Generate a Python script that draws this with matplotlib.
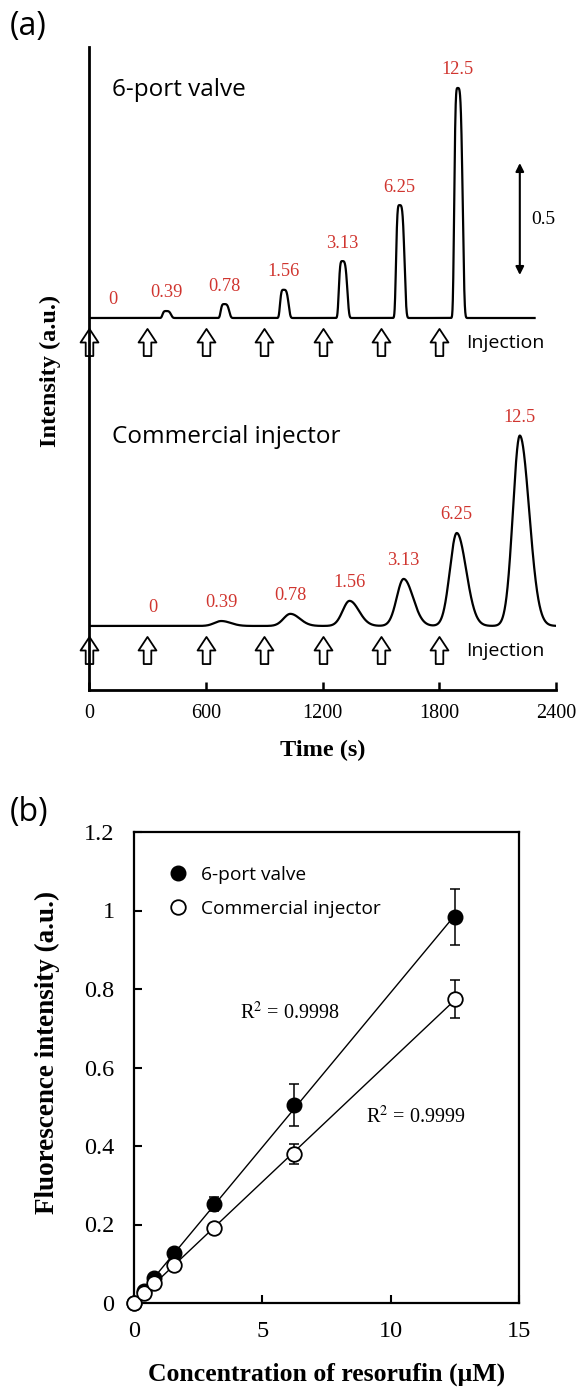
import matplotlib
matplotlib.use("Agg")
import matplotlib.pyplot as plt
import numpy as np
from matplotlib.path import Path
from matplotlib.ticker import FuncFormatter

SERIF = "Liberation Serif"
SANS = "Open Sans"
RED = "#d0352f"
plt.rcParams["mathtext.fontset"] = "stix"

# ---- panel (a): injection trains ----
inj_times = [0, 300, 600, 900, 1200, 1500, 1800]          # s
conc_labels = ["0", "0.39", "0.78", "1.56", "3.13", "6.25", "12.5"]
# apex time (s) and height (a.u.) of each peak; first entry = blank (label only)
valve_t = [124, 396, 695, 1000, 1302, 1596, 1895]
valve_h = [0.0, 0.031, 0.062, 0.126, 0.254, 0.504, 1.027]
comm_t = [330, 680, 1035, 1339, 1617, 1890, 2214]
comm_h = [0.0, 0.022, 0.054, 0.112, 0.21, 0.415, 0.85]
scale_bar = 0.5

# ---- panel (b): calibration ----
conc = [0, 0.39, 0.78, 1.56, 3.13, 6.25, 12.5]              # uM
valve_mean = [0.0, 0.031, 0.064, 0.127, 0.252, 0.504, 0.983]
valve_sd = [0.0, 0.003, 0.004, 0.006, 0.018, 0.054, 0.072]
comm_mean = [0.0, 0.025, 0.051, 0.097, 0.191, 0.380, 0.775]
comm_sd = [0.0, 0.002, 0.003, 0.004, 0.006, 0.026, 0.048]
r2_valve = 0.9998
r2_comm = 0.9999


def trace(t, centres, heights, w_left, w_right, power):
    # chromatogram built from the peak table above
    y = np.zeros_like(t)
    for c, h in zip(centres, heights):
        w = np.where(t < c, w_left, w_right)
        y += h * np.exp(-np.abs((t - c) / w) ** power)
    return y


# hollow "up" block arrow used as a marker
arrow = Path([(-0.14, -0.5), (0.14, -0.5), (0.14, 0.0), (0.33, 0.0),
              (0.0, 0.5), (-0.33, 0.0), (-0.14, 0.0), (-0.14, -0.5)],
             [Path.MOVETO] + [Path.LINETO] * 6 + [Path.CLOSEPOLY])

fig = plt.figure(figsize=(5.79, 13.88), dpi=100)

# ================= (a) =================
ax = fig.add_axes([89 / 579, 1 - 690 / 1388, 467 / 579, 643 / 1388])
top_base, bot_base = 1.375, 0.0
ax.set_xlim(0, 2400)
ax.set_ylim(-0.286, 2.585)

t1 = np.linspace(0, 2290, 4000)
t2 = np.linspace(0, 2400, 4000)
ax.plot(t1, top_base + trace(t1, valve_t, valve_h, 20, 28, 4), color="black", lw=1.6)
ax.plot(t2, bot_base + trace(t2, comm_t, comm_h, 50, 68, 2), color="black", lw=1.6)

for base, ts, hs in ((top_base, valve_t, valve_h), (bot_base, comm_t, comm_h)):
    for tc, h, lab in zip(ts, hs, conc_labels):
        ax.annotate(lab, (tc, base + h), xytext=(0, 13), textcoords="offset points",
                    ha="center", va="center", color=RED, fontsize=13.2, family=SERIF)
    ax.plot(inj_times, [base - 0.108] * len(inj_times), ls="none", marker=arrow,
            ms=19.5, mfc="white", mec="black", mew=1.3, zorder=1.5, clip_on=False)
    ax.text(1936, base - 0.112, "Injection", fontsize=14, family=SANS,
            ha="left", va="center")

ax.text(118, 2.393, "6-port valve", fontsize=17.5, family=SANS, va="center")
ax.text(118, 0.844, "Commercial injector", fontsize=17.5, family=SANS, va="center")

bar_lo = 1.567
ax.annotate("", xy=(2214, bar_lo + scale_bar), xytext=(2214, bar_lo),
            arrowprops=dict(arrowstyle="<|-|>", color="black", lw=1.5,
                            shrinkA=0, shrinkB=0, mutation_scale=12))
ax.text(2333, bar_lo + scale_bar / 2, f"{scale_bar:g}", fontsize=14, family=SERIF,
        ha="center", va="center")

for s in ("top", "right"):
    ax.spines[s].set_visible(False)
for s in ("left", "bottom"):
    ax.spines[s].set_linewidth(2)
ax.set_yticks([])
ax.set_xticks([0, 600, 1200, 1800, 2400])
ax.tick_params(axis="x", direction="in", length=6, width=1.8, pad=10, labelsize=14.5)
for lab in ax.get_xticklabels():
    lab.set_family(SERIF)
ax.set_xlabel("Time (s)", fontsize=17.5, family=SERIF, fontweight="bold", va="top")
ax.xaxis.set_label_coords(0.5, -0.078)
ax.set_ylabel("Intensity (a.u.)", fontsize=17.5, family=SERIF, fontweight="bold")
ax.yaxis.set_label_coords(-0.06, 0.496)

# ================= (b) =================
bx = fig.add_axes([134 / 579, 1 - 1303 / 1388, 385 / 579, 471 / 1388])
bx.set_xlim(0, 15)
bx.set_ylim(0, 1.2)

xf = np.array([min(conc), max(conc)])
for mean in (valve_mean, comm_mean):
    k, b = np.polyfit(conc, mean, 1)
    bx.plot(xf, k * xf + b, color="black", lw=1.0, zorder=2)

bx.errorbar(conc, valve_mean, yerr=valve_sd, fmt="none", ecolor="black",
            elinewidth=1.1, capsize=3.5, capthick=1.1, zorder=2.5)
bx.errorbar(conc, comm_mean, yerr=comm_sd, fmt="none", ecolor="black",
            elinewidth=1.1, capsize=3.5, capthick=1.1, zorder=2.5)
bx.plot(conc, valve_mean, "o", ms=10.5, mfc="black", mec="black",
        label="6-port valve", zorder=3, clip_on=False)
bx.plot(conc, comm_mean, "o", ms=10.5, mfc="white", mec="black", mew=1.3,
        label="Commercial injector", zorder=4, clip_on=False)

bx.text(4.13, 0.739, f"R$^2$ = {r2_valve}", fontsize=14.5, family=SERIF, va="center")
bx.text(9.04, 0.474, f"R$^2$ = {r2_comm}", fontsize=14.5, family=SERIF, va="center")

bx.legend(loc="upper left", bbox_to_anchor=(0.0896, 0.928), frameon=False,
          prop=dict(family=SANS, size=13.8), handlelength=1.0, handletextpad=0.7,
          labelspacing=0.85, borderpad=0, borderaxespad=0)

for s in bx.spines.values():
    s.set_linewidth(1.6)
bx.set_xticks([0, 5, 10, 15])
bx.set_yticks([0, 0.2, 0.4, 0.6, 0.8, 1.0, 1.2])
bx.yaxis.set_major_formatter(FuncFormatter(lambda v, p: f"{v:g}"))
bx.tick_params(axis="both", direction="in", length=6, width=1.5, labelsize=17.5)
bx.tick_params(axis="x", pad=13)
bx.tick_params(axis="y", pad=14)
for lab in bx.get_xticklabels() + bx.get_yticklabels():
    lab.set_family(SERIF)
bx.set_xlabel("Concentration of resorufin (\u03bcM)", fontsize=18.5, family=SERIF,
              fontweight="bold", va="top")
bx.xaxis.set_label_coords(0.5, -0.127)
bx.set_ylabel("Fluorescence intensity (a.u.)", fontsize=19.5, family=SERIF,
              fontweight="bold")
bx.yaxis.set_label_coords(-0.192, 0.531)

fig.text(10 / 579, 1 - 27 / 1388, "(a)", fontsize=23, family=SANS, va="center")
fig.text(10 / 579, 1 - 813 / 1388, "(b)", fontsize=23, family=SANS, va="center")

fig.savefig("out.png", dpi=100)
